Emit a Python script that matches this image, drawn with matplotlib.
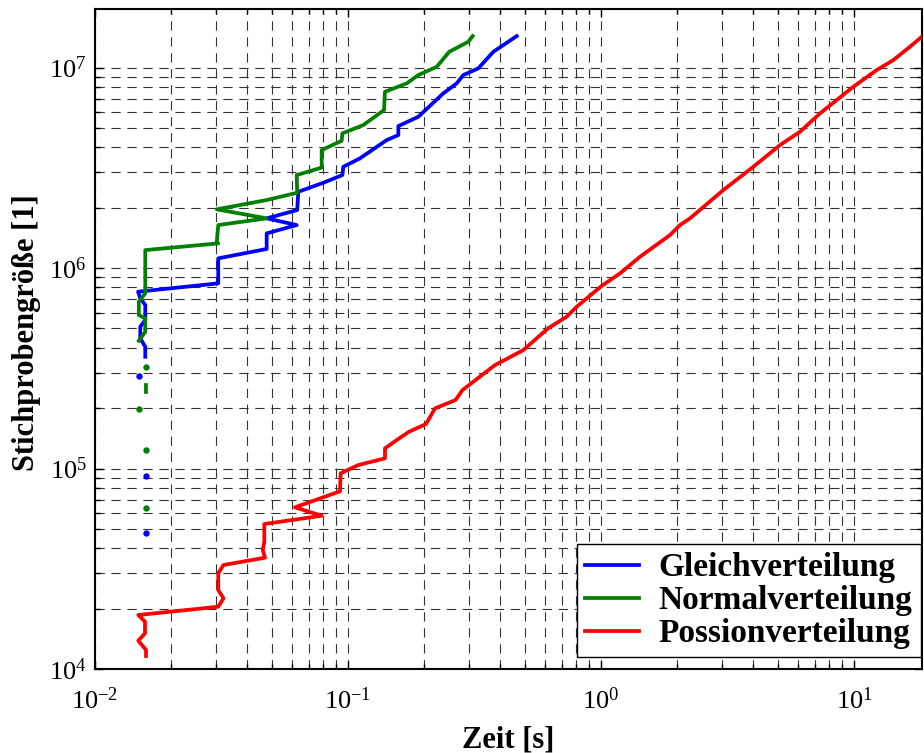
import numpy as np
import matplotlib
matplotlib.use("Agg")
import matplotlib.pyplot as plt
from matplotlib.ticker import LogLocator, LogFormatterSciNotation, NullFormatter

plt.rcParams['font.family'] = ['Liberation Serif', 'DejaVu Serif']
plt.rcParams['mathtext.fontset'] = 'custom'
plt.rcParams['mathtext.rm'] = 'Liberation Serif'
plt.rcParams['mathtext.it'] = 'Liberation Serif:italic'
plt.rcParams['mathtext.bf'] = 'Liberation Serif:bold'
plt.rcParams['lines.scale_dashes'] = False

nan = np.nan

# ---- Gleichverteilung (uniform) ----
gleich_t = [0.0158, 0.0158, 0.0151, 0.0151, 0.0158, 0.0158, 0.0151, 0.0148, 0.0307, 0.0307,
            0.0477, 0.0477, 0.0627, 0.0477, 0.0630, 0.0636, 0.0799, 0.0950, 0.0958, 0.1115,
            0.1422, 0.1581, 0.1581, 0.1896, 0.2380, 0.2690, 0.2856, 0.3273, 0.3754, 0.4642]
gleich_n = [361000, 405000, 446000, 510000, 550000, 654000, 706000, 762000, 839000, 1118000,
            1245000, 1489000, 1639000, 1770000, 1947000, 2402000, 2664000, 2910000, 3200000, 3525000,
            4350000, 4606000, 5108000, 5683000, 7436000, 8341000, 9177000, 9910000, 11990000, 14360000]
gleich_dot_t = [0.0159, 0.0159, 0.0149]
gleich_dot_n = [47500, 92050, 290400]

# ---- Normalverteilung (normal) ----
normal_t = [0.0159, 0.0159, nan, 0.0149, 0.0158, 0.0158, 0.0149, 0.0149, 0.0158, 0.0158, 0.0307,
            0.0303, 0.0307, 0.0477, 0.0303, 0.0477, 0.0630, 0.0627, 0.0787, 0.0787, 0.0944,
            0.0950, 0.1149, 0.1388, 0.1400, 0.1706, 0.1896, 0.2242, 0.2514, 0.2988, 0.3111]
normal_n = [241000, 261000, nan, 434000, 481000, 561000, 583000, 679000, 748000, 1229000, 1328000,
            1353000, 1639000, 1770000, 1963000, 2184000, 2375000, 2910000, 3170000, 3877000, 4315000,
            4697000, 5167000, 6138000, 7574000, 8341000, 9177000, 10090000, 11990000, 13450000, 14360000]
normal_dot_t = [0.0159, 0.0159, 0.0149, 0.0159]
normal_dot_n = [63750, 123700, 197300, 322000]

# ---- Possionverteilung (Poisson) ----
possion_t = [0.01591, 0.01591, 0.01483, 0.01576, 0.01576, 0.01483, 0.0307, 0.0322, 0.0307, 0.0307,
             0.0322, 0.04699, 0.04601, 0.04669, 0.04669, 0.0787, 0.06171, 0.09298, 0.0935, 0.1098,
             0.1400, 0.1400, 0.1558, 0.1742, 0.2034, 0.2208, 0.2660, 0.2835, 0.3811, 0.4931,
             0.6173, 0.7318, 0.8017, 1.0065, 1.189, 1.427, 1.874, 2.053, 2.248, 3.044,
             4.0, 5.101, 6.118, 7.338, 9.936, 12.29, 14.30, 16.64, 18.52]
possion_n = [11610, 12440, 13840, 15070, 17220, 18590, 20450, 22520, 24770, 30010,
             33020, 35910, 39230, 43140, 52870, 58150, 64050, 76970, 94640, 104100,
             112400, 126100, 138700, 152600, 166700, 199600, 219600, 246300, 328200, 389900,
             500400, 571700, 641200, 815000, 941000, 1139000, 1461000, 1639000, 1770000, 2449000,
             3200000, 4108000, 4784000, 5910000, 8021000, 9716000, 10900000, 12700000, 14240000]

labels = ['Gleichverteilung', 'Normalverteilung', 'Possionverteilung']
colors = ['#0000FF', '#008000', '#FF0000']

fig = plt.figure(figsize=(9.24, 7.53), dpi=100)
ax = fig.add_axes([95/924, 84/753, 826.7/924, 660/753])

lw = 2.7
ax.plot(gleich_t, gleich_n, color=colors[0], lw=lw, label=labels[0], zorder=3)
ax.plot(normal_t, normal_n, color=colors[1], lw=lw, label=labels[1], zorder=3)
ax.plot(possion_t, possion_n, color=colors[2], lw=lw, label=labels[2], zorder=3)
ax.plot(gleich_dot_t, gleich_dot_n, 'o', color=colors[0], ms=4.6, mec='none', zorder=3)
ax.plot(normal_dot_t, normal_dot_n, 'o', color=colors[1], ms=4.6, mec='none', zorder=3)

ax.set_xscale('log')
ax.set_yscale('log')
ax.set_xlim(0.01, possion_t[-1])
ax.set_ylim(1e4, 1.96e7)

ax.xaxis.set_major_locator(LogLocator(base=10, numticks=20))
ax.yaxis.set_major_locator(LogLocator(base=10, numticks=20))
ax.xaxis.set_minor_locator(LogLocator(base=10, subs=np.arange(2, 10), numticks=50))
ax.yaxis.set_minor_locator(LogLocator(base=10, subs=np.arange(2, 10), numticks=50))
ax.xaxis.set_major_formatter(LogFormatterSciNotation())
ax.yaxis.set_major_formatter(LogFormatterSciNotation())
ax.xaxis.set_minor_formatter(NullFormatter())
ax.yaxis.set_minor_formatter(NullFormatter())

grid_kw = dict(color='0.2', lw=0.8, linestyle=(0, (6.7, 4.8)))
ax.grid(True, which='major', **grid_kw)
ax.grid(True, which='minor', **grid_kw)
ax.set_axisbelow(True)

ax.tick_params(which='both', direction='in', top=True, right=True, labelsize=19, width=1)
ax.tick_params(axis='x', which='major', length=6, pad=13)
ax.tick_params(axis='y', which='major', length=6, pad=6)
ax.tick_params(which='minor', length=3.5)
for s in ax.spines.values():
    s.set_linewidth(1.5)

ax.set_xlabel('Zeit [s]', fontsize=22, fontweight='bold')
ax.set_ylabel('Stichprobengröße [1]', fontsize=22, fontweight='bold', va='center')
ax.xaxis.set_label_coords(0.5, -0.085)
ax.yaxis.set_label_coords(-0.083, 0.51)

leg = ax.legend(loc='lower right', bbox_to_anchor=(0.9988, 0.0177), borderaxespad=0,
                prop={'family': 'Liberation Serif', 'weight': 'bold', 'size': 24},
                fancybox=False, framealpha=1, edgecolor='black', handlelength=1.6,
                handletextpad=0.6, labelspacing=0.06, borderpad=0.24)
leg.get_frame().set_linewidth(1.0)

fig.savefig('out.png', dpi=100)
